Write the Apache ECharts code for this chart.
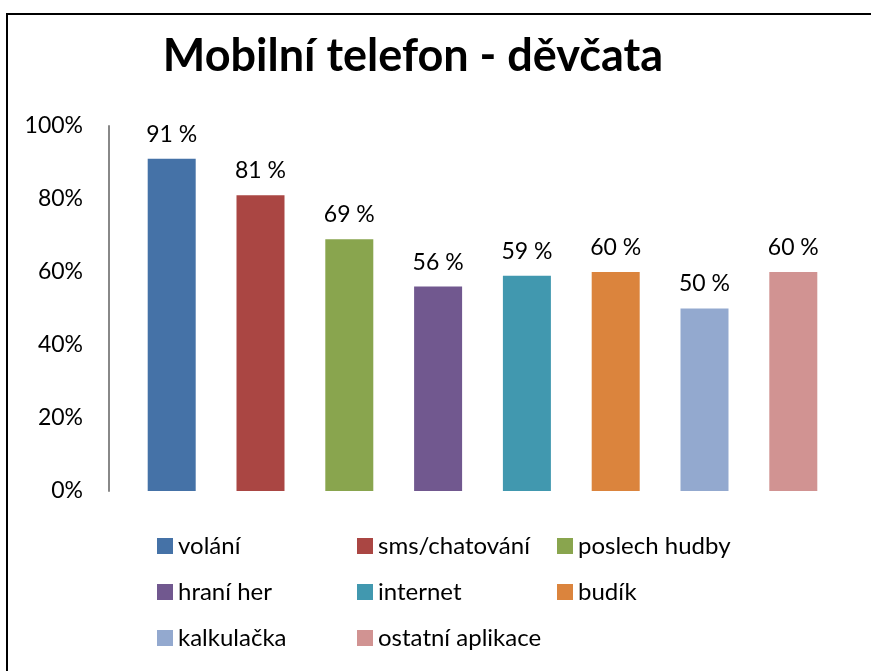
<!DOCTYPE html>
<html>
<head>
<meta charset="utf-8">
<script src="https://cdn.jsdelivr.net/npm/echarts@6/dist/echarts.min.js"></script>
<style>
  html, body { margin: 0; padding: 0; background: #fff; }
  #chart { width: 871px; height: 671px; }
</style>
</head>
<body>
<div id="chart"></div>
<script>
// categories / values
const names = ['volání', 'sms/chatování', 'poslech hudby', 'hraní her', 'internet', 'budík', 'kalkulačka', 'ostatní aplikace'];
const values = [91, 81, 69, 56, 59, 60, 50, 60];
const colors = ['#4572A7', '#AA4643', '#89A54E', '#71588F', '#4198AF', '#DB843D', '#93A9CF', '#D19392'];
const yTicks = [0, 20, 40, 60, 80, 100];

// legend columns, as in the picture
const legendCols = [
  { left: 157, names: ['volání', 'hraní her', 'kalkulačka'] },
  { left: 357, names: ['sms/chatování', 'internet', 'ostatní aplikace'] },
  { left: 557, names: ['poslech hudby', 'budík'] }
];

const font = 'Lato, "Open Sans", "Noto Sans", sans-serif';

const chart = echarts.init(document.getElementById('chart'));

const series = names.map((n, i) => ({
  name: n,
  type: 'bar',
  data: [values[i]],
  barWidth: 48,
  barGap: '85%',
  itemStyle: { color: colors[i] },
  label: {
    show: true,
    position: 'top',
    distance: 13,
    formatter: '{c} %',
    color: '#000',
    fontSize: 23,
    fontFamily: font
  }
}));

const option = {
  animation: false,
  title: {
    text: 'Mobilní telefon - děvčata',
    left: 408,
    textAlign: 'center',
    top: 29,
    textStyle: { fontSize: 45, fontWeight: 'bold', color: '#000', fontFamily: font }
  },
  legend: legendCols.map(c => ({
    orient: 'vertical',
    left: c.left,
    top: 534,
    padding: 0,
    itemWidth: 16,
    itemHeight: 16,
    itemGap: 22,
    icon: 'rect',
    data: c.names,
    textStyle: { fontSize: 24, color: '#000', fontFamily: font },
    selectedMode: false
  })),
  grid: { left: 109, right: 15, top: 126, bottom: 180 },
  xAxis: {
    type: 'category',
    data: [''],
    axisLine: { show: false },
    axisTick: { show: false },
    axisLabel: { show: false }
  },
  yAxis: {
    type: 'value',
    min: yTicks[0],
    max: yTicks[yTicks.length - 1],
    interval: 20,
    axisLine: { show: true, lineStyle: { color: '#888', width: 2 } },
    axisTick: { show: false },
    splitLine: { show: false },
    axisLabel: {
      formatter: '{value}%',
      margin: 26,
      color: '#000',
      fontSize: 23,
      fontFamily: font
    }
  },
  graphic: [{
    type: 'rect',
    shape: { x: 7, y: 14, width: 900, height: 700 },
    style: { fill: 'none', stroke: '#000', lineWidth: 2 },
    silent: true
  }],
  series: series
};

chart.setOption(option);
</script>
</body>
</html>
